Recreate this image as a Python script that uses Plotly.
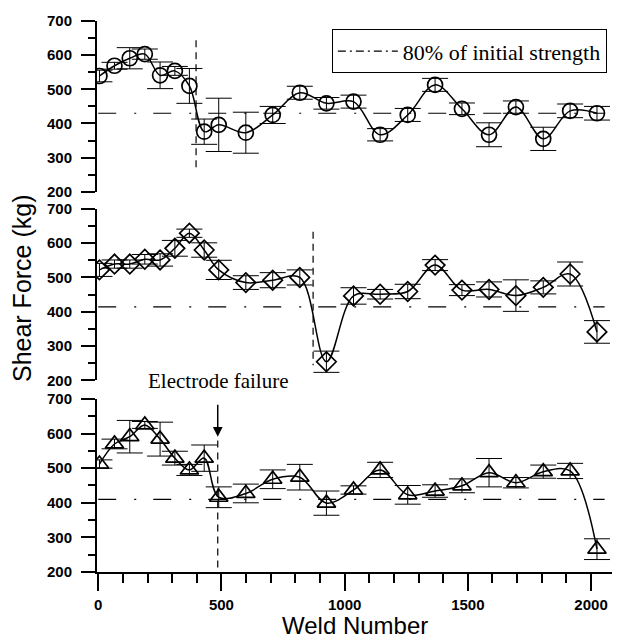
import plotly.graph_objects as go

# ---- data ----
weld = [5, 66, 128, 189, 251, 311, 370, 430, 489, 599, 708, 818, 926, 1036,
        1144, 1256, 1367, 1476, 1586, 1695, 1806, 1915, 2024]

top_vals = [539, 569, 591, 603, 541, 554, 510, 376, 396, 373, 425, 490, 459, 464,
            367, 425, 513, 443, 367, 448, 355, 437, 430]
top_err = [17, 10, 31, 15, 39, 13, 51, 37, 78, 60, 25, 19, 17, 19,
           18, 19, 19, 17, 35, 18, 34, 20, 20]

mid_vals = [522, 539, 539, 553, 551, 585, 629, 580, 522, 485, 492, 500, 254, 446,
            451, 459, 536, 463, 465, 447, 471, 510, 341]
mid_err = [19, 12, 12, 14, 18, 23, 12, 21, 28, 20, 22, 22, 31, 24,
           14, 21, 16, 16, 22, 46, 19, 35, 33]

bot_vals = [512, 570, 591, 625, 584, 529, 495, 529, 416, 427, 468, 474, 399, 437,
            495, 423, 434, 449, 487, 458, 490, 492, 266]
bot_err = [12, 14, 47, 10, 49, 20, 16, 38, 30, 27, 27, 37, 35, 12,
           22, 27, 18, 20, 41, 15, 19, 22, 30]

threshold = {"top": 430, "mid": 414, "bot": 410}
threshold_x = [0, 2055]
failure_x = {"top": 397, "mid": 872, "bot": 485}
failure_y = {"top": [644, 258], "mid": [633, 244], "bot": [580, 200]}

legend_label = "80% of initial strength"
annot_text = "Electrode failure"

# ---- figure ----
fig = go.Figure()

# legend-only entry (compact dash-dot sample)
fig.add_trace(go.Scatter(
    x=[None], y=[None], mode="lines", name=legend_label,
    line=dict(color="black", width=1.2, dash="8px,4px,2px,4px"),
    xaxis="x3", yaxis="y3", showlegend=True))

panels = [
    ("top", top_vals, top_err, "circle-open", 15, "x3", "y3"),
    ("mid", mid_vals, mid_err, "diamond-open", 15, "x2", "y2"),
    ("bot", bot_vals, bot_err, "triangle-up-open", 16, "x", "y"),
]

for key, vals, err, sym, msize, xa, ya in panels:
    fig.add_trace(go.Scatter(
        x=threshold_x, y=[threshold[key]] * 2, mode="lines",
        line=dict(color="black", width=1.2, dash="18px,18px,2px,17px"),
        showlegend=False, xaxis=xa, yaxis=ya, hoverinfo="skip"))
    fig.add_trace(go.Scatter(
        x=[failure_x[key]] * 2, y=failure_y[key], mode="lines",
        line=dict(color="black", width=1.2, dash="7px,5px"),
        showlegend=False, xaxis=xa, yaxis=ya, hoverinfo="skip"))
    fig.add_trace(go.Scatter(
        x=weld, y=vals, mode="lines+markers",
        line=dict(color="black", width=1.5, shape="spline", smoothing=1.0),
        marker=dict(symbol=sym, size=msize, color="black",
                    line=dict(color="black", width=1.7)),
        error_y=dict(type="data", array=err, visible=True,
                     color="black", thickness=1, width=13),
        showlegend=False, xaxis=xa, yaxis=ya))

tickfont = dict(family="Liberation Sans", size=15, color="black", weight="bold")

yaxis_common = dict(
    range=[200, 700], dtick=100, showline=True, linecolor="black", linewidth=2,
    ticks="outside", ticklen=14, tickwidth=2, tickcolor="black",
    minor=dict(dtick=50, ticks="outside", ticklen=7, tickwidth=2, tickcolor="black"),
    showgrid=False, zeroline=False, tickfont=tickfont, mirror=False,
    automargin=False, ticklabelstandoff=6,
)
xrange = [-5, 2085]

# page body has an 8px margin -> figure placed at (8, 8)
fig.update_layout(
    width=618, height=633,
    margin=dict(l=89, r=14, t=13, b=69, autoexpand=False),
    plot_bgcolor="white", paper_bgcolor="white",
    xaxis=dict(range=xrange, anchor="y", showline=True, linecolor="black",
               linewidth=2, ticks="outside", ticklen=17, tickwidth=2,
               tickcolor="black", dtick=500, tick0=0,
               minor=dict(dtick=100, ticks="outside", ticklen=9, tickwidth=2,
                          tickcolor="black"),
               showgrid=False, zeroline=False, tickfont=tickfont,
               automargin=False, ticklabelstandoff=1),
    xaxis2=dict(range=xrange, anchor="y2", visible=False, automargin=False),
    xaxis3=dict(range=xrange, anchor="y3", visible=False, automargin=False),
    yaxis=dict(domain=[0, 0.314], anchor="x", **yaxis_common),
    yaxis2=dict(domain=[0.348, 0.659], anchor="x2", **yaxis_common),
    yaxis3=dict(domain=[0.690, 1.0], anchor="x3", **yaxis_common),
    legend=dict(x=0.99, xanchor="right", y=0.985, yanchor="top",
                bgcolor="white", bordercolor="black", borderwidth=1,
                itemwidth=60,
                font=dict(family="Liberation Serif", size=22, color="black")),
    showlegend=True,
)

fig.add_annotation(
    text="Shear Force (kg)", xref="paper", yref="paper",
    x=-0.146, y=0.515, xanchor="center", yanchor="middle", textangle=-90,
    showarrow=False, font=dict(family="Liberation Sans", size=25, color="black"))
fig.add_annotation(
    text="Weld Number", xref="paper", yref="paper",
    x=0.5, y=-0.1245, xanchor="center", yanchor="bottom",
    showarrow=False, font=dict(family="Liberation Sans", size=24, color="black"))
fig.add_annotation(
    text=annot_text, xref="x", yref="paper", x=490, y=0.347,
    xanchor="center", yanchor="middle", showarrow=False,
    font=dict(family="Liberation Serif", size=21, color="black"))
fig.add_annotation(
    text="", xref="x", yref="y", x=485, y=591,
    axref="x", ayref="y", ax=485, ay=688,
    showarrow=True, arrowhead=2, arrowsize=1.3, arrowwidth=1.5,
    arrowcolor="black")

fig.write_html("out.html")
